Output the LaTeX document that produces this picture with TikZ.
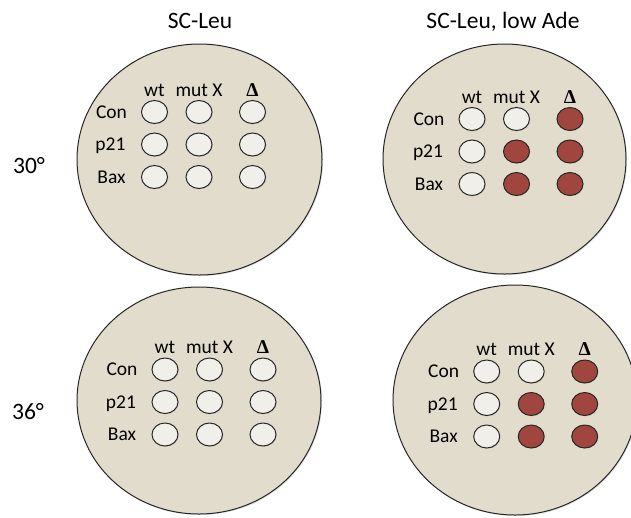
\documentclass[tikz,border=0pt]{standalone}
\usepackage{fontspec}
\setmainfont{Carlito}
\newfontfamily\deltafont{Liberation Serif}
\usetikzlibrary{shapes.geometric,shadows}

\definecolor{platefill}{RGB}{226,220,204}
\definecolor{wellfill}{RGB}{240,239,233}
\definecolor{wellred}{RGB}{160,70,62}

\tikzset{
  plate/.style={ellipse, draw=black!85, line width=1pt, fill=platefill, inner sep=0pt,
    drop shadow={opacity=0.25, shadow xshift=1pt, shadow yshift=-1pt}},
  well/.style={ellipse, draw=black!85, line width=1pt, fill=wellfill,
    minimum width=26pt, minimum height=23pt, inner sep=0pt,
    drop shadow={opacity=0.2, shadow xshift=0.8pt, shadow yshift=-0.8pt}},
  redwell/.style={well, fill=wellred},
  lbl/.style={font=\fontsize{19.5}{19.5}\selectfont, inner sep=0pt, anchor=base},
  title/.style={font=\fontsize{23.5}{23.5}\selectfont, inner sep=0pt, anchor=base},
}

% Well grid of one plate: #1 name prefix, #2 origin (wt column, Con row),
% #3 style of the mut X wells for p21 and Bax, #4 style of the delta column
\newcommand\wellgrid[4]{%
  \begin{scope}[shift={#2}]
    \node[lbl] (#1-hwt)  at (0,-16)    {wt};
    \node[lbl] (#1-hmut) at (44.5,-16) {mut X};
    \node[lbl] (#1-hdel) at (98,-16)   {\deltafont\bfseries Δ};
    \node[lbl] (#1-rcon) at (-43,6)    {Con};
    \node[lbl] (#1-rp)   at (-44,38.5) {p21};
    \node[lbl] (#1-rbax) at (-43,71)   {Bax};
    \node[well] (#1-wc) at (0,0)    {};
    \node[well] (#1-wp) at (0,32.5) {};
    \node[well] (#1-wb) at (0,65)   {};
    \node[well] (#1-mc) at (44.5,0)    {};
    \node[#3]   (#1-mp) at (44.5,32.5) {};
    \node[#3]   (#1-mb) at (44.5,65)   {};
    \node[#4]   (#1-dc) at (98,0)    {};
    \node[#4]   (#1-dp) at (98,32.5) {};
    \node[#4]   (#1-db) at (98,65)   {};
  \end{scope}}

\begin{document}
\begin{tikzpicture}[x=1pt, y=-1pt]
  \useasboundingbox (0,0) rectangle (631,517);

  % column and row titles
  \node[title] (tleu) at (200,28) {SC-Leu};
  \node[title] (tade) at (503,28) {SC-Leu, low Ade};
  \node[title] (t30)  at (29,173) {30°};
  \node[title] (t36)  at (28,419) {36°};

  % plates
  \node[plate, minimum width=245pt, minimum height=231pt] (ptl) at (199.5,159.5) {};
  \node[plate, minimum width=243pt, minimum height=230pt] (ptr) at (504.5,159) {};
  \node[plate, minimum width=244pt, minimum height=227pt] (pbl) at (199,400.5) {};
  \node[plate, minimum width=244pt, minimum height=230pt] (pbr) at (515,400) {};

  % wells
  \wellgrid{tl}{(154.5,112)}{well}{well}
  \wellgrid{tr}{(472,119)}{redwell}{redwell}
  \wellgrid{bl}{(165,369.5)}{well}{well}
  \wellgrid{br}{(486.7,371.5)}{redwell}{redwell}
\end{tikzpicture}
\end{document}
